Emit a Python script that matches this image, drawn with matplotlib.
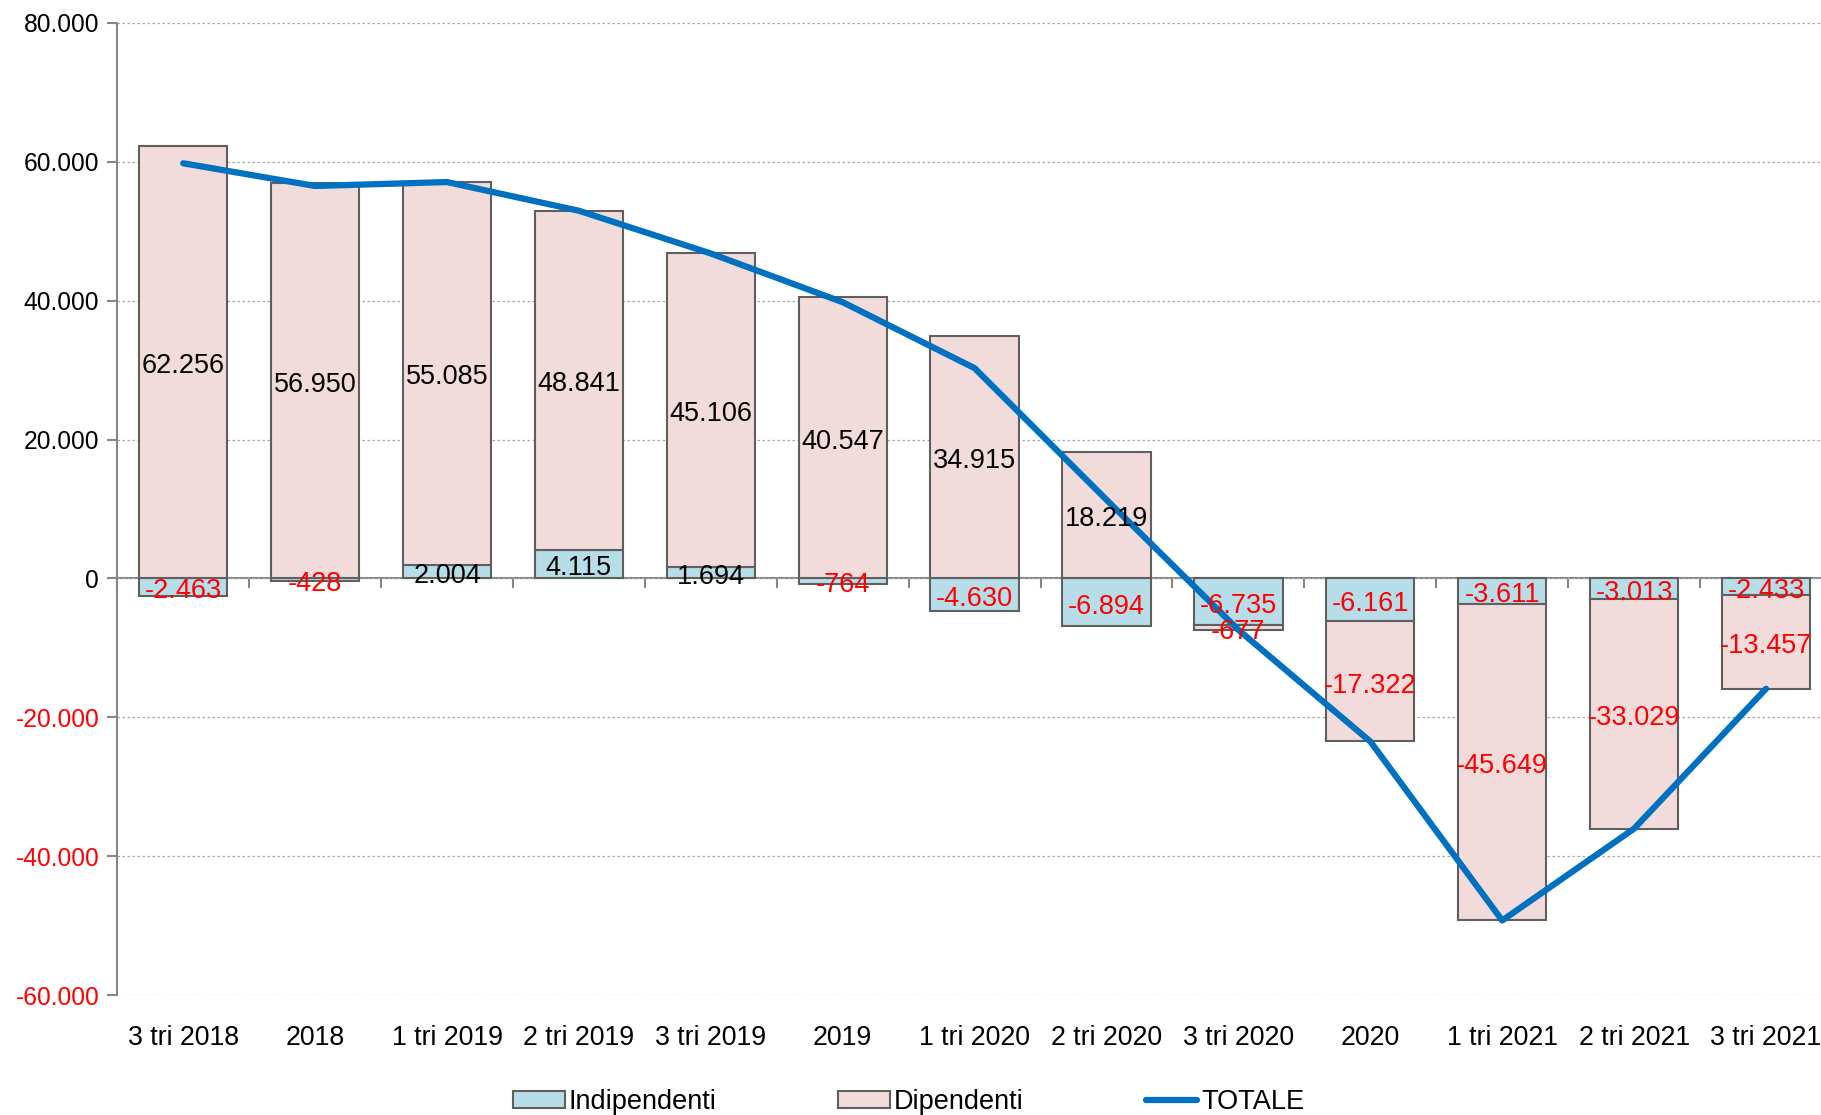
import numpy as np
import matplotlib
matplotlib.use("Agg")
import matplotlib.pyplot as plt
from matplotlib.ticker import FuncFormatter
from matplotlib.transforms import offset_copy

plt.rcParams['font.family'] = ['Liberation Sans', 'DejaVu Sans']

categories = ["3 tri 2018", "2018", "1 tri 2019", "2 tri 2019", "3 tri 2019", "2019",
              "1 tri 2020", "2 tri 2020", "3 tri 2020", "2020", "1 tri 2021", "2 tri 2021", "3 tri 2021"]
indipendenti = [-2463, -428, 2004, 4115, 1694, -764, -4630, -6894, -6735, -6161, -3611, -3013, -2433]
dipendenti = [62256, 56950, 55085, 48841, 45106, 40547, 34915, 18219, -677, -17322, -45649, -33029, -13457]
totale = [59793, 56522, 57089, 52956, 46800, 39783, 30285, 11325, -7412, -23483, -49260, -36042, -15890]
yticks = [-60000, -40000, -20000, 0, 20000, 40000, 60000, 80000]

C_IND = "#B7DEE8"
C_DIP = "#F2DCDB"
C_EDGE = "#5F5F5F"
C_LINE = "#0070C0"
C_AX = "#868686"

def fmt(v):
    return f"{int(v):,}".replace(",", ".")

fig = plt.figure(figsize=(18.21, 11.15), dpi=100)
ax = fig.add_axes([0.0644, 0.1076, 1.006 - 0.0644, 0.9794 - 0.1076])

x = np.arange(len(categories))
ind = np.array(indipendenti, dtype=float)
dip = np.array(dipendenti, dtype=float)
bottom_dip = np.where(np.sign(ind) == np.sign(dip), ind, 0.0)

w = 0.67
b1 = ax.bar(x, ind, width=w, color=C_IND, edgecolor=C_EDGE, linewidth=1.5, label="Indipendenti", zorder=2)
b2 = ax.bar(x, dip, width=w, bottom=bottom_dip, color=C_DIP, edgecolor=C_EDGE, linewidth=1.5, label="Dipendenti", zorder=2)
ln, = ax.plot(x, totale, color=C_LINE, linewidth=4.5, solid_capstyle='round', label="TOTALE", zorder=4)

# data labels (slightly lowered like the original)
LFS = 19.5
tr = offset_copy(ax.transData, fig=fig, x=0, y=-3, units='points')
for xi, v in zip(x, ind):
    ax.text(xi, v / 2, fmt(v), ha='center', va='center', fontsize=LFS, transform=tr,
            color='red' if v < 0 else 'black', zorder=5)
for xi, v, b in zip(x, dip, bottom_dip):
    ax.text(xi, b + v / 2, fmt(v), ha='center', va='center', fontsize=LFS, transform=tr,
            color='red' if v < 0 else 'black', zorder=5)

ax.set_ylim(-60000, 80000)
ax.set_yticks(yticks)
ax.yaxis.set_major_formatter(FuncFormatter(lambda v, p: fmt(v)))
for lab, v in zip(ax.get_yticklabels(), yticks):
    lab.set_color('red' if v < 0 else 'black')
ax.tick_params(axis='y', labelsize=17.7, length=7, width=1.5, color=C_AX, pad=6)
ax.grid(axis='y', linestyle=(0, (2, 2)), color='#A6A6A6', linewidth=0.9, zorder=0)

ax.set_xlim(-0.5, len(categories) - 0.5)
ax.set_xticks(x)
ax.set_xticklabels(categories)
ax.tick_params(axis='x', length=0, labelsize=19.3, pad=21.5)

for s in ['top', 'right', 'bottom']:
    ax.spines[s].set_visible(False)
ax.spines['left'].set_color(C_AX)
ax.spines['left'].set_linewidth(1.5)

# zero axis with category separator ticks
y0 = (0 - (-60000)) / (80000 - (-60000))
sec = ax.secondary_xaxis(y0)
sec.set_xticks(np.arange(len(categories) + 1) - 0.5)
sec.set_xticklabels([])
sec.tick_params(axis='x', direction='out', length=7, width=1.5, color=C_AX)
sec.spines['bottom'].set_color(C_AX)
sec.spines['bottom'].set_linewidth(1.5)
sec.spines['top'].set_visible(False)

leg = fig.legend(handles=[b1, b2, ln], labels=["Indipendenti", "Dipendenti", "TOTALE"],
                 loc='center', bbox_to_anchor=(0.499, 0.0115), ncol=3, frameon=False,
                 fontsize=19.5, handlelength=1.9, handleheight=0.6, handletextpad=0.15,
                 columnspacing=4.5)

fig.savefig("out.png", dpi=100)
